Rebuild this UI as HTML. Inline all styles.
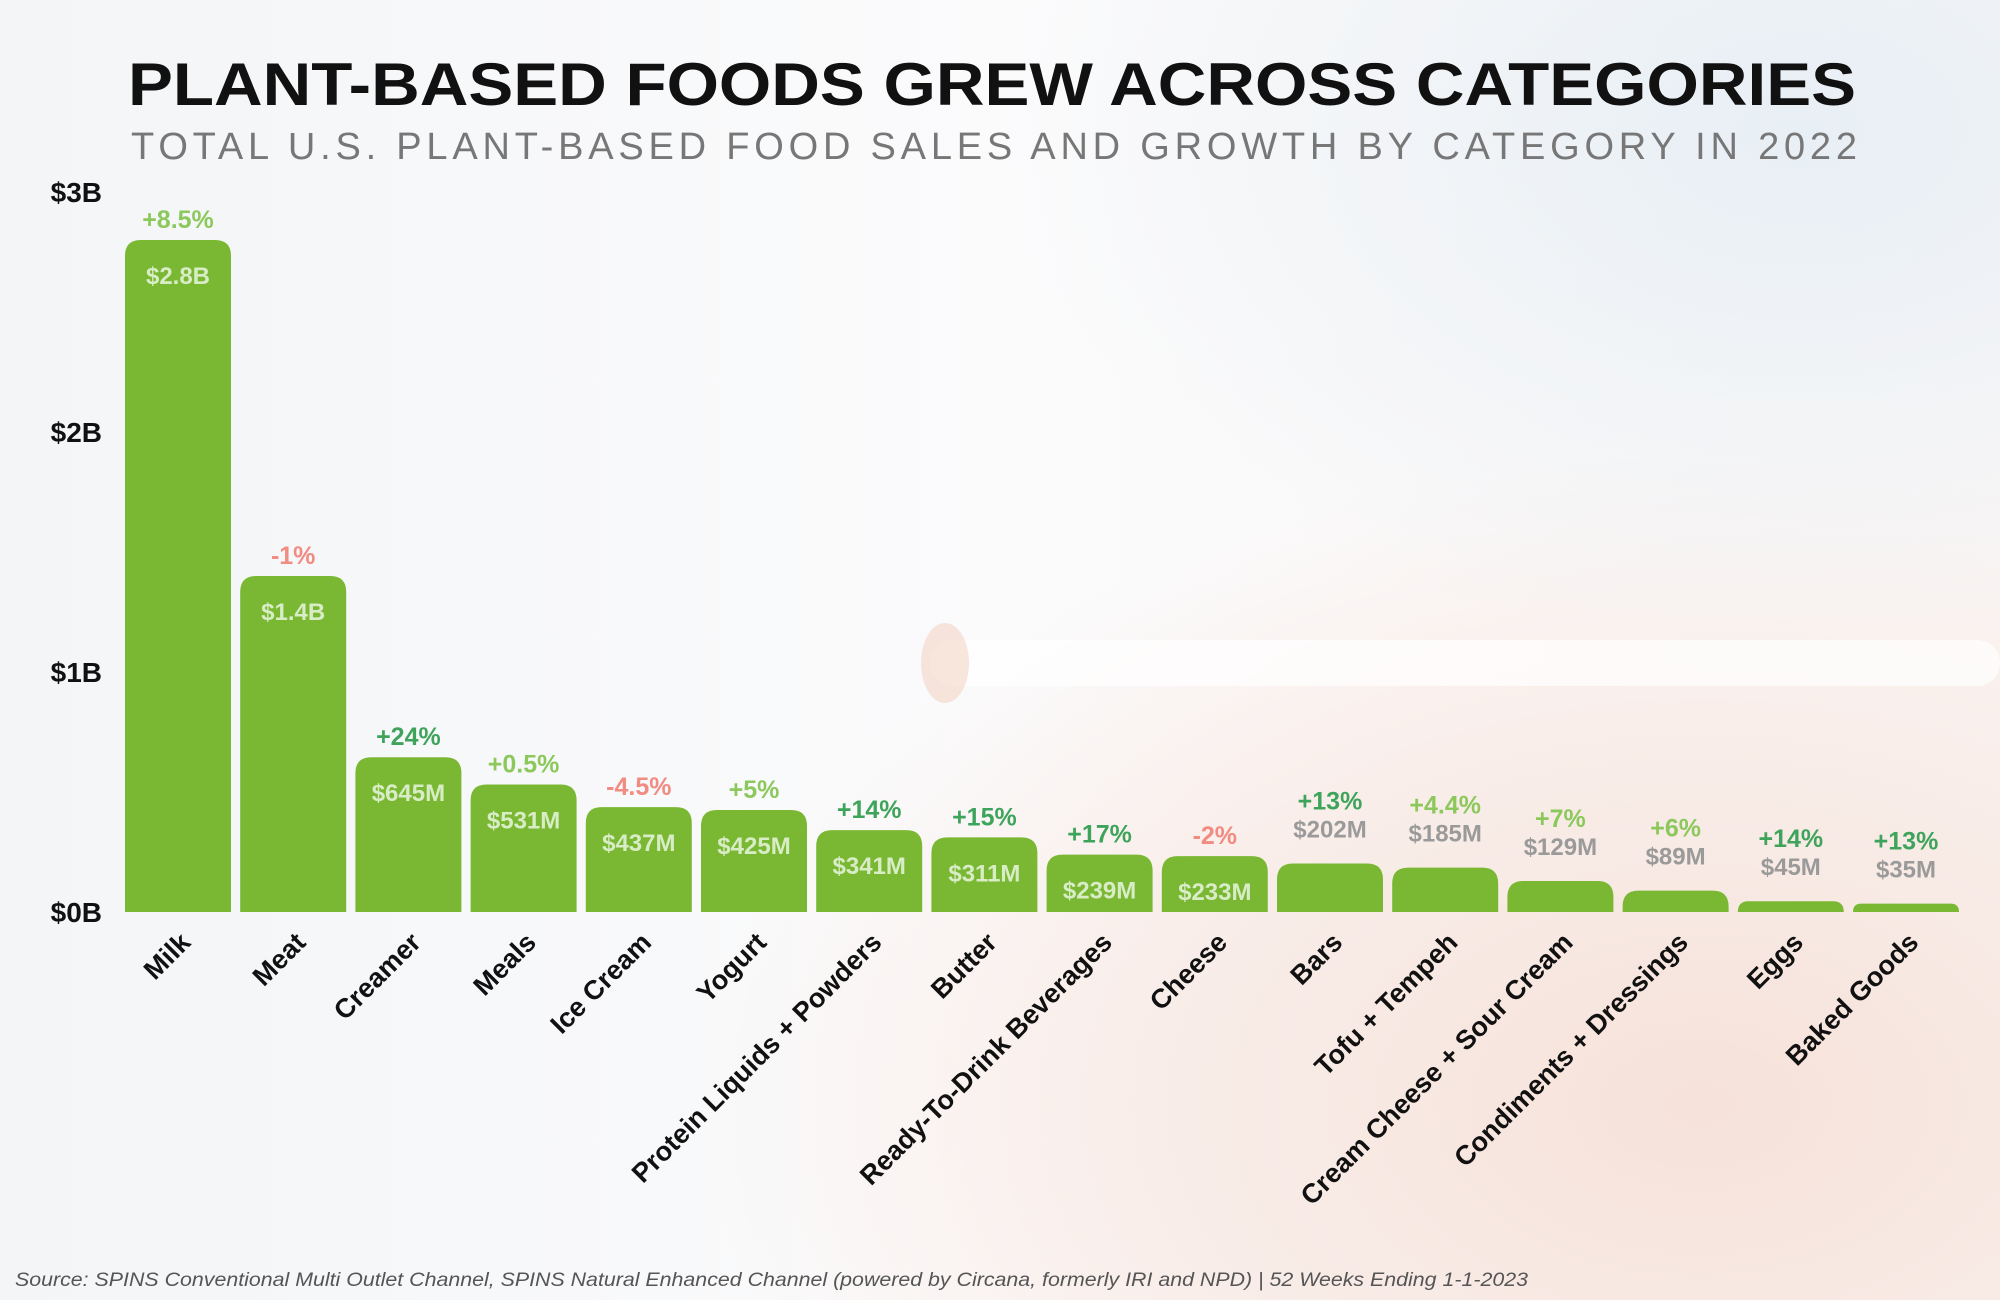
<!DOCTYPE html>
<html><head><meta charset="utf-8"><style>
html,body{margin:0;padding:0;width:2000px;height:1300px;overflow:hidden;background:#fff}
svg{display:block}
text{font-family:"Liberation Sans",sans-serif}
</style></head><body>
<svg id="chart" width="2000" height="1300" viewBox="0 0 2000 1300" xmlns="http://www.w3.org/2000/svg">
<defs>
<linearGradient id="bgL" x1="0" y1="0" x2="1" y2="0">
<stop offset="0" stop-color="#f3f5f7"/><stop offset="0.5" stop-color="#fbfbfc"/><stop offset="1" stop-color="#faf7f6"/>
</linearGradient>
<radialGradient id="bgR" cx="0.85" cy="0.85" r="0.5">
<stop offset="0" stop-color="#f6e2da"/><stop offset="0.6" stop-color="#f9eeea"/><stop offset="1" stop-color="#f9eeea" stop-opacity="0"/>
</radialGradient>
<radialGradient id="bgT" cx="0.9" cy="0.1" r="0.4">
<stop offset="0" stop-color="#e8eff5"/><stop offset="1" stop-color="#e8eff5" stop-opacity="0"/>
</radialGradient>
</defs>
<g>
<rect width="2000" height="1300" fill="url(#bgL)"/>
<rect width="2000" height="1300" fill="url(#bgR)"/>
<rect width="2000" height="1300" fill="url(#bgT)"/>
<rect x="930" y="640" width="1070" height="46" rx="23" fill="#ffffff" opacity="0.7"/>
<ellipse cx="945" cy="663" rx="24" ry="40" fill="#f3d4c5" opacity="0.6"/>
</g>
<g id="plot"></g>
<text x="128" y="105" font-size="60" font-weight="bold" fill="#111" textLength="1728" lengthAdjust="spacingAndGlyphs">PLANT-BASED FOODS GREW ACROSS CATEGORIES</text>
<text x="131" y="159" font-size="38" fill="#777" textLength="1726" lengthAdjust="spacing">TOTAL U.S. PLANT-BASED FOOD SALES AND GROWTH BY CATEGORY IN 2022</text>
<text x="15" y="1286" font-size="19" font-style="italic" fill="#555" textLength="1513" lengthAdjust="spacingAndGlyphs">Source: SPINS Conventional Multi Outlet Channel, SPINS Natural Enhanced Channel (powered by Circana, formerly IRI and NPD) | 52 Weeks Ending 1-1-2023</text>
</svg>
<script>
const categories = ["Milk","Meat","Creamer","Meals","Ice Cream","Yogurt","Protein Liquids + Powders","Butter","Ready-To-Drink Beverages","Cheese","Bars","Tofu + Tempeh","Cream Cheese + Sour Cream","Condiments + Dressings","Eggs","Baked Goods"];
const salesM = [2800,1400,645,531,437,425,341,311,239,233,202,185,129,89,45,35];
const valueLabels = ["$2.8B","$1.4B","$645M","$531M","$437M","$425M","$341M","$311M","$239M","$233M","$202M","$185M","$129M","$89M","$45M","$35M"];
const growth = [8.5,-1,24,0.5,-4.5,5,14,15,17,-2,13,4.4,7,6,14,13];
const growthLabels = ["+8.5%","-1%","+24%","+0.5%","-4.5%","+5%","+14%","+15%","+17%","-2%","+13%","+4.4%","+7%","+6%","+14%","+13%"];
const yTicks = [0,1000,2000,3000];
const yTickLabels = ["$0B","$1B","$2B","$3B"];

const NS = "http://www.w3.org/2000/svg";
const plot = document.getElementById('plot');
const baseY = 912, pxPerM = 0.24, x0 = 125, pitch = 115.2, bw = 106, r = 16;
const yScale = v => baseY - v * pxPerM;
const xScale = i => x0 + i * pitch;
function mk(tag, attrs, txt){const e=document.createElementNS(NS,tag);for(const k in attrs)e.setAttribute(k,attrs[k]);if(txt!=null)e.textContent=txt;plot.appendChild(e);return e;}

yTicks.forEach((t,i)=>{
  const e = mk('text',{x:102,y:yScale(t)+10,'font-size':28,'font-weight':'bold','text-anchor':'end',fill:'#111'},yTickLabels[i]);
  
  
});

categories.forEach((c,i)=>{
  const x = xScale(i), top = yScale(salesM[i]), h = baseY - top, rr = Math.min(r, h);
  const p = mk('path',{d:`M${x},${baseY} V${top+rr} Q${x},${top} ${x+rr},${top} H${x+bw-rr} Q${x+bw},${top} ${x+bw},${top+rr} V${baseY} Z`,fill:'#7ab833'});
  
  
  const cx = x + bw/2;
  const inside = salesM[i] > 220;
  const v = mk('text',{x:cx,y:inside?top+44:top-26,'font-size':24,'font-weight':'bold','text-anchor':'middle',fill:inside?'#d8ecc6':'#9a9a9a'},valueLabels[i]);
  
  
  const g = growth[i];
  const col = g < 0 ? '#f28b82' : (g >= 10 ? '#3fa45b' : '#8cc85c');
  const pc = mk('text',{x:cx,y:inside?top-12:top-54,'font-size':25,'font-weight':'bold','text-anchor':'middle',fill:col},growthLabels[i]);
  
  
  const lx = cx + 14, ly = 944;
  const l = mk('text',{x:lx,y:ly,'font-size':27,'font-weight':'bold','text-anchor':'end',fill:'#111',transform:`rotate(-45 ${lx} ${ly})`},c);
  
  
});
</script>
</body></html>
